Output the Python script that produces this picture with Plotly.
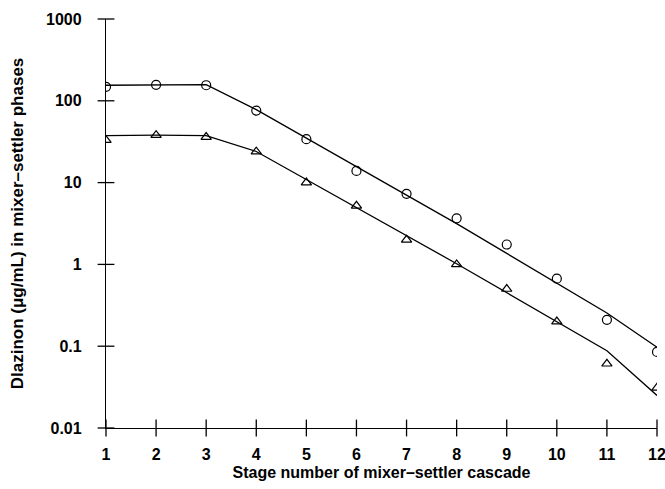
import plotly.graph_objects as go

stages = list(range(1, 13))
circle_vals = [148, 157, 155, 76, 34, 13.9, 7.3, 3.66, 1.75, 0.67, 0.21, 0.085]
triangle_vals = [33, 38, 36, 23.9, 10, 5.2, 2.0, 1.0, 0.5, 0.2, 0.061, 0.031]

upper_line_x = [1, 2, 3, 4, 8, 11, 12]
upper_line_y = [155, 157, 158, 78, 3.15, 0.255, 0.097]
lower_line_x = [1, 2, 3, 4, 8, 11, 12]
lower_line_y = [37.5, 38, 37.5, 24, 1.02, 0.088, 0.025]

x_ticks = list(range(1, 13))
y_ticks = [0.01, 0.1, 1, 10, 100, 1000]
y_tick_text = ["0.01", "0.1", "1", "10", "100", "1000"]

X_MIN, X_MAX = 1, 12
Y_MIN, Y_MAX = 0.01, 1000

FONT = "Liberation Sans, Arial, sans-serif"

fig = go.Figure()
fig.add_trace(go.Scatter(x=upper_line_x, y=upper_line_y, mode="lines",
                         line=dict(color="black", width=1.3), showlegend=False))
fig.add_trace(go.Scatter(x=lower_line_x, y=lower_line_y, mode="lines",
                         line=dict(color="black", width=1.3), showlegend=False))
fig.add_trace(go.Scatter(x=stages, y=circle_vals, mode="markers",
                         marker=dict(symbol="circle-open", size=9, color="black",
                                     line=dict(width=1.2)), showlegend=False))
fig.add_trace(go.Scatter(x=stages, y=triangle_vals, mode="markers",
                         marker=dict(symbol="triangle-up-open", size=9, color="black",
                                     line=dict(width=1.2)), showlegend=False))
# crossing tick marks centred on the axes
fig.add_trace(go.Scatter(x=x_ticks, y=[Y_MIN] * len(x_ticks), mode="markers",
                         marker=dict(symbol="line-ns", size=12,
                                     line=dict(color="black", width=1.3)),
                         cliponaxis=False, showlegend=False, hoverinfo="skip"))
fig.add_trace(go.Scatter(x=[X_MIN] * len(y_ticks), y=y_ticks, mode="markers",
                         marker=dict(symbol="line-ew", size=12,
                                     line=dict(color="black", width=1.3)),
                         cliponaxis=False, showlegend=False, hoverinfo="skip"))

common = dict(showgrid=False, zeroline=False, showline=True, linecolor="black",
              linewidth=1.3, ticks="outside", tickcolor="rgba(0,0,0,0)",
              automargin=False, ticklabeloverflow="allow")

fig.update_layout(
    width=665, height=489,
    margin=dict(l=106, r=8, t=19, b=61),
    paper_bgcolor="white", plot_bgcolor="white",
    font=dict(family=FONT, color="black"),
    xaxis=dict(range=[X_MIN, X_MAX], tickvals=x_ticks, ticklen=12,
               tickfont=dict(size=16, family=FONT, weight="bold"),
               title=dict(text="<b>Stage number of mixer–settler cascade</b>",
                          font=dict(size=16), standoff=4),
               **common),
    yaxis=dict(type="log", range=[-2, 3], tickvals=y_ticks, ticktext=y_tick_text,
               ticklen=20,
               tickfont=dict(size=16, family=FONT, weight="bold"),
               title=dict(text="<b>Dlazinon (μg/mL) in mixer–settler phases</b>",
                          font=dict(size=17), standoff=18),
               **common),
)

fig.write_html("out.html")
